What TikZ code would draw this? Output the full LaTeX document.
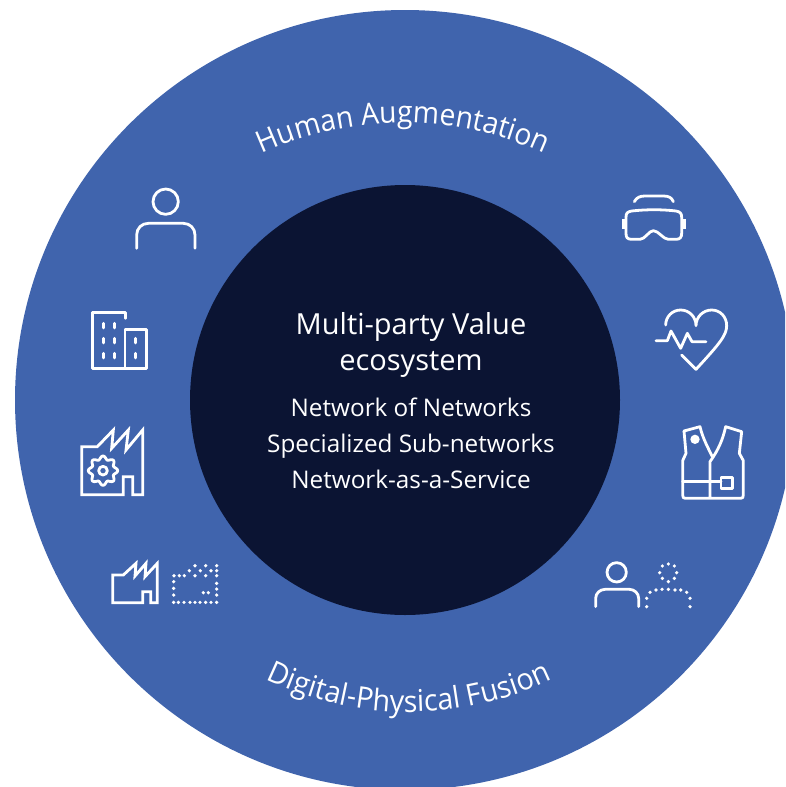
\documentclass[tikz,border=0pt]{standalone}
\usepackage{fontspec}
\setmainfont{Open Sans}
\newfontfamily\arcfontA[FakeStretch=0.94]{Open Sans}
\newfontfamily\arcfontB[FakeStretch=0.955]{Open Sans}
\usetikzlibrary{decorations.text}
\definecolor{ringblue}{HTML}{4064AD}
\definecolor{corenavy}{HTML}{0B1433}
\tikzset{
  icon/.style={draw=white,line width=2.8pt,line join=round,line cap=round},
  icondots/.style={fill=white,draw=none},
  zoomA/.style={shift={(60,170)},scale=1/3},
  zoomB/.style={shift={(60,420)},scale=1/3},
  zoomC/.style={shift={(610,180)},scale=1/3},
  zoomD/.style={shift={(580,410)},scale=1/3},
  bigtext/.style={text=white,font=\fontsize{29}{32}\selectfont,anchor=base},
  smalltext/.style={text=white,font=\fontsize{24.3}{27}\selectfont,anchor=base},
}
\begin{document}
\begin{tikzpicture}[x=1pt,y=-1pt]
\useasboundingbox (0,0) rectangle (785,787);
\begin{scope}
\clip (0,0) rectangle (785,787);
\fill[ringblue] (405,400) circle[radius=390];
\end{scope}
\fill[corenavy] (405,400) circle[radius=215];
\node[bigtext] (title1) at (411,334) {Multi-party Value};
\node[bigtext] (title2) at (411,370) {ecosystem};
\node[smalltext] (line1) at (411,416) {Network of Networks};
\node[smalltext] (line2) at (411,452) {Specialized Sub-networks};
\node[smalltext] (line3) at (411,488) {Network-as-a-Service};
\path[decorate,decoration={text along path,text align=center,
  text={|\arcfontA\fontsize{30}{32}\selectfont\color{white}|Human Augmentation}}]
  (403,463) ++(220:340) arc[start angle=220,end angle=320,radius=340];
\path[decorate,decoration={text along path,text align=center,
  text={|\arcfontB\fontsize{30}{32}\selectfont\color{white}|Digital-Physical Fusion}}]
  (409,385) ++(140:327) arc[start angle=140,end angle=40,radius=327];
% person
\begin{scope}[zoomA]
\draw[icon] (317,95) circle[radius=38];
\draw[icon] (230,235) -- (230,195) .. controls (230,175) and (245,160) .. (265,160) -- (370,160) .. controls (390,160) and (405,175) .. (405,195) -- (405,235);
% building
\draw[icon] (197,445) -- (197,427) -- (97,427) -- (97,595) -- (260,595) -- (260,478) -- (195,478) -- (195,595);
\foreach \wx in {130,163} \foreach \wy in {467,512,557}
  \draw[icon] (\wx,\wy-7) -- (\wx,\wy+7);
\foreach \wy in {512,557}
  \draw[icon] (226,\wy-7) -- (226,\wy+7);
\end{scope}
% factories
\begin{scope}[zoomB]
\draw[icon,line cap=butt,line join=miter] (65,80) -- (112,80) -- (160,30) -- (155,85) -- (205,30) -- (198,90) -- (248,30) -- (248,224) -- (218,224) -- (218,170) -- (190,170) -- (190,224) -- (65,224) -- cycle;
\draw[icon] plot[domain=0:360,samples=145,smooth] ({129+(39+5*cos(8*\x))*cos(\x)},{152+(39+5*cos(8*\x))*sin(\x)});
\draw[icon] (129,152) circle[radius=13];
\draw[icon,line cap=butt,line join=miter] (158,465) -- (190,465) -- (228,430) -- (225,468) -- (258,430) -- (255,470) -- (292,430) -- (292,548) -- (272,548) -- (272,515) -- (248,515) -- (248,548) -- (158,548) -- cycle;
\foreach \dx/\dy in {342/467,358/467,373/467,388/452,405/437,405/467,421/452,437/437,437/467,453/452,470/437,470/452,470/467,470/490,470/507,470/525,470/547,453/547,445/518,430/518,437/547,420/547,405/547,390/547,372/547,355/547,341/547,341/525,341/505,341/485}
  \fill[icondots] (\dx,\dy) circle[radius=5.5];
\end{scope}
% goggles and heart
\begin{scope}[zoomC]
\draw[icon] (73,65) .. controls (80,52) and (90,48) .. (105,48) -- (160,48) .. controls (175,48) and (185,52) .. (190,65);
\draw[icon] (48,112) .. controls (48,100) and (52,95) .. (65,93) .. controls (110,88) and (155,88) .. (198,93) .. controls (210,95) and (215,100) .. (215,112) -- (215,160) .. controls (215,172) and (210,178) .. (198,178) -- (175,178) .. controls (160,178) and (145,152) .. (130,152) .. controls (117,152) and (105,178) .. (90,178) -- (65,178) .. controls (52,178) and (48,172) .. (48,160) -- cycle;
\draw[draw=white,line width=3.4pt] (40,118) -- (40,147);
\draw[draw=white,line width=3.4pt] (224,118) -- (224,147);
\draw[icon] (167,435) .. controls (167,410) and (187,390) .. (212,390) .. controls (237,390) and (258,410) .. (258,437) .. controls (258,410) and (280,390) .. (305,390) .. controls (330,390) and (350,410) .. (350,437) .. controls (350,465) and (330,490) .. (258,568) -- (215,525);
\draw[icon] (138,482) -- (172,482) -- (183,453) -- (212,505) -- (232,460) -- (246,485) -- (288,485);
\end{scope}
% vest and persons
\begin{scope}[zoomD]
\draw[icon] (312,63) -- (360,50) .. controls (368,85) and (385,115) .. (397,140);
\draw[icon] (312,63) -- (318,130) -- (308,152) -- (308,255) .. controls (308,262) and (310,265) .. (316,265) -- (482,265) .. controls (488,265) and (490,262) .. (490,255) -- (490,152) -- (478,130) -- (485,65) -- (437,50) .. controls (428,90) and (415,120) .. (390,155) -- (390,265);
\fill[icondots] (345,88) circle[radius=14];
\draw[icon] (308,215) -- (423,215);
\draw[icon] (423,203) rectangle (457,235);
\draw[icon] (110,487) circle[radius=29];
\draw[icon] (47,590) -- (47,565) .. controls (47,550) and (60,538) .. (75,538) -- (148,538) .. controls (163,538) and (176,550) .. (176,565) -- (176,590);
\foreach \dx/\dy in {265/462,283/468,290/488,283/505,265/515,247/505,239/488,247/468,210/547,228/540,246/538,265/538,285/540,302/540,320/547,330/565,330/590,200/565,200/590}
  \fill[icondots] (\dx,\dy) circle[radius=5.5];
\end{scope}
\end{tikzpicture}
\end{document}
